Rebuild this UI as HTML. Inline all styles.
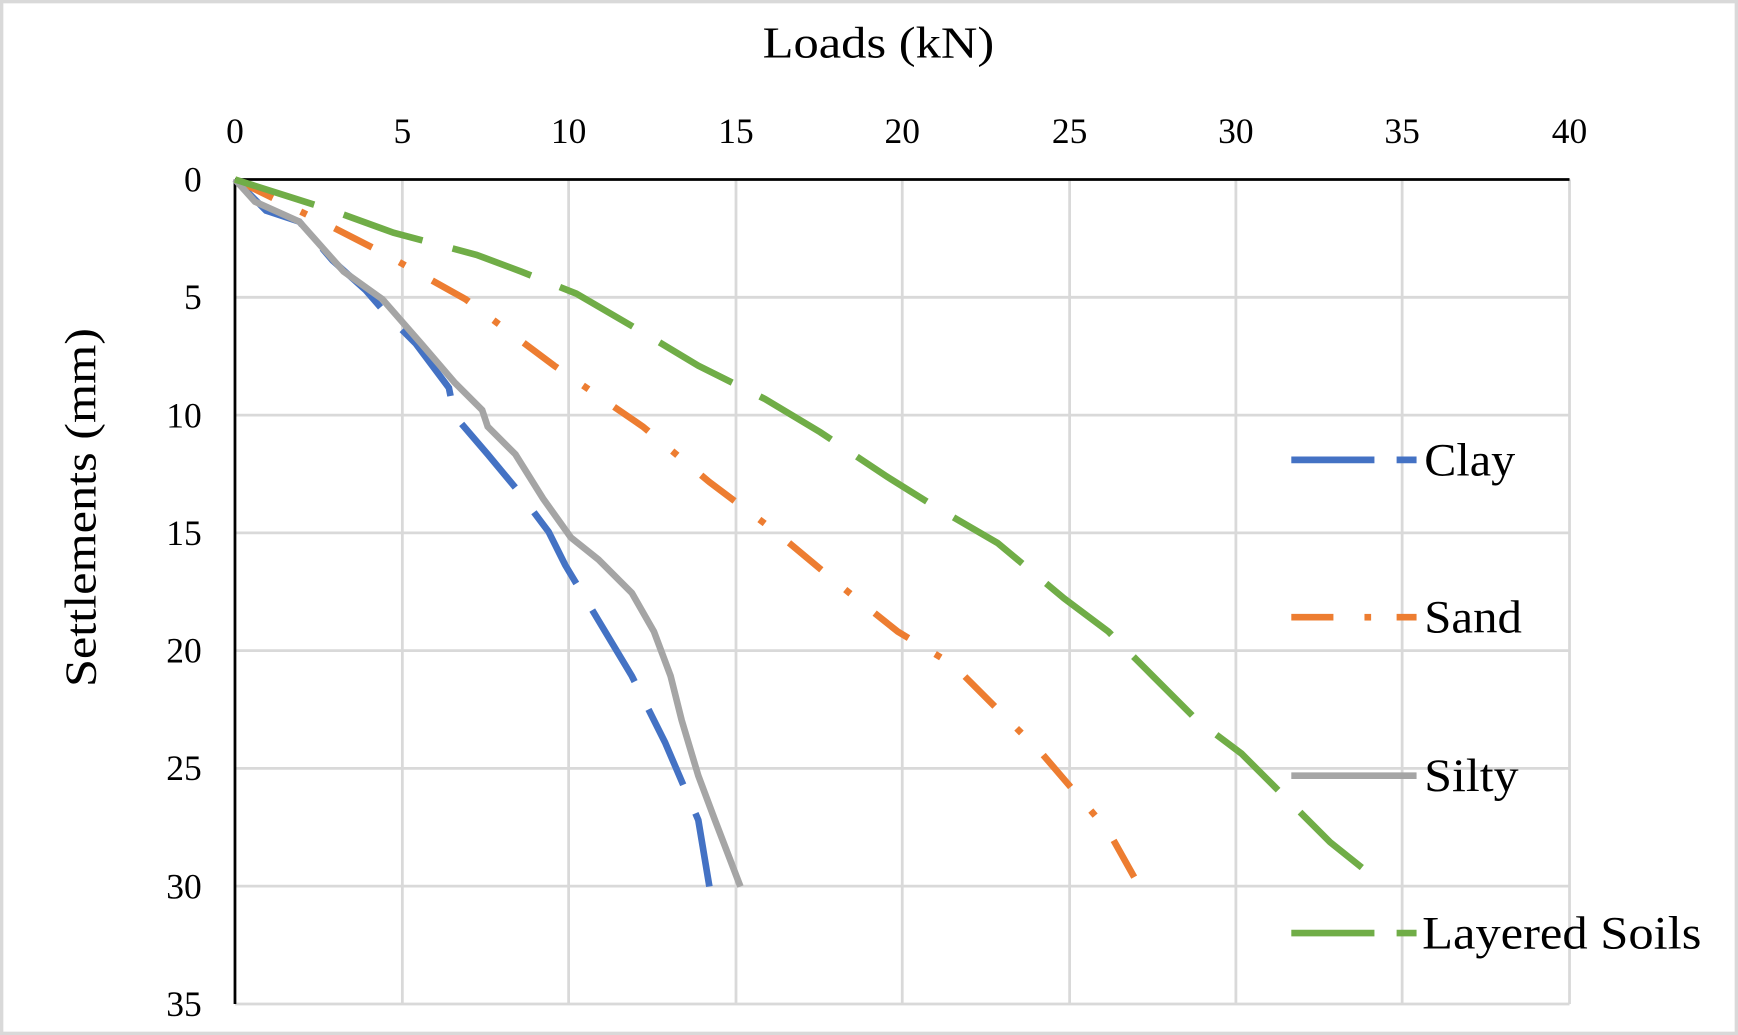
<!DOCTYPE html>
<html><head><style>html,body{margin:0;padding:0;background:#fff}svg{display:block}</style></head>
<body>
<svg width="1738" height="1035" viewBox="0 0 1568 934" preserveAspectRatio="none" xmlns="http://www.w3.org/2000/svg">
<rect x="1.5" y="1.5" width="1565" height="931" fill="#fff" stroke="#d9d9d9" stroke-width="3"/>
<g stroke="#d9d9d9" stroke-width="2.5">
<line x1="363" y1="162" x2="363" y2="906"/><line x1="513" y1="162" x2="513" y2="906"/>
<line x1="664" y1="162" x2="664" y2="906"/><line x1="814" y1="162" x2="814" y2="906"/>
<line x1="965" y1="162" x2="965" y2="906"/><line x1="1115" y1="162" x2="1115" y2="906"/>
<line x1="1265" y1="162" x2="1265" y2="906"/><line x1="1416" y1="162" x2="1416" y2="906"/>
<line x1="212" y1="268.3" x2="1416" y2="268.3"/><line x1="212" y1="374.6" x2="1416" y2="374.6"/>
<line x1="212" y1="480.9" x2="1416" y2="480.9"/><line x1="212" y1="587.1" x2="1416" y2="587.1"/>
<line x1="212" y1="693.4" x2="1416" y2="693.4"/><line x1="212" y1="799.7" x2="1416" y2="799.7"/>
<line x1="212" y1="906" x2="1416" y2="906"/>
</g>
<line x1="212" y1="162" x2="1416" y2="162" stroke="#000" stroke-width="2.5"/>
<line x1="212" y1="162" x2="212" y2="906" stroke="#000" stroke-width="2.5"/>
<g font-family="Liberation Serif, serif" font-size="32" fill="#000" text-anchor="middle">
<text x="212" y="129">0</text><text x="363" y="129">5</text><text x="513" y="129">10</text>
<text x="664" y="129">15</text><text x="814" y="129">20</text><text x="965" y="129">25</text>
<text x="1115" y="129">30</text><text x="1265" y="129">35</text><text x="1416" y="129">40</text>
</g>
<g font-family="Liberation Serif, serif" font-size="32" fill="#000" text-anchor="end">
<text x="182" y="173">0</text><text x="182" y="279">5</text><text x="182" y="386">10</text>
<text x="182" y="492">15</text><text x="182" y="598">20</text><text x="182" y="704">25</text>
<text x="182" y="811">30</text><text x="182" y="917">35</text>
</g>
<text x="688" y="52" font-family="Liberation Serif, serif" font-size="40" textLength="209" lengthAdjust="spacingAndGlyphs">Loads (kN)</text>
<text transform="translate(86,620) rotate(-90)" font-family="Liberation Serif, serif" font-size="40" textLength="324" lengthAdjust="spacingAndGlyphs">Settlements (mm)</text>
<g fill="none" stroke-width="6">
<polyline stroke="#4472c4" stroke-dasharray="75,28" points="212,162 240,190 270,200 300,235 330,262 350,285 375,310 405,350 410,375 440,410 465,440 495,480 510,510 540,560 570,610 600,670 630,740 640,800"/>
<polyline stroke="#ed7d31" stroke-dasharray="38,28,6,28" points="212,162 300,205 345,228 420,270 500,330 580,385 640,435 700,480 760,530 810,570 860,600 900,640 940,680 970,715 1000,750 1028,800"/>
<polyline stroke="#a5a5a5" points="212,162 230,182 270,200 310,245 345,270 380,310 410,345 435,370 440,385 465,410 490,450 515,485 540,505 570,535 590,570 605,610 615,650 630,700 645,740 668,800"/>
<polyline stroke="#70ad47" stroke-dasharray="75,28" points="212,162 300,190 355,210 430,230 470,245 520,265 580,300 630,330 690,360 740,390 800,430 840,455 900,490 960,540 1000,570 1040,610 1080,650 1120,680 1150,710 1200,760 1250,800"/>
<line x1="1165" y1="415" x2="1240" y2="415" stroke="#4472c4"/><line x1="1260" y1="415" x2="1278" y2="415" stroke="#4472c4"/>
<line x1="1165" y1="557" x2="1203" y2="557" stroke="#ed7d31"/><line x1="1231" y1="557" x2="1237" y2="557" stroke="#ed7d31"/><line x1="1260" y1="557" x2="1278" y2="557" stroke="#ed7d31"/>
<line x1="1165" y1="700" x2="1278" y2="700" stroke="#a5a5a5"/>
<line x1="1165" y1="842" x2="1240" y2="842" stroke="#70ad47"/><line x1="1260" y1="842" x2="1278" y2="842" stroke="#70ad47"/>
</g>
<g font-family="Liberation Serif, serif" font-size="42" fill="#000" lengthAdjust="spacingAndGlyphs">
<text x="1285" y="429" textLength="82" lengthAdjust="spacingAndGlyphs">Clay</text>
<text x="1285" y="571" textLength="88" lengthAdjust="spacingAndGlyphs">Sand</text>
<text x="1285" y="714" textLength="85" lengthAdjust="spacingAndGlyphs">Silty</text>
<text x="1283" y="856" textLength="252" lengthAdjust="spacingAndGlyphs">Layered Soils</text>
</g>
</svg>
</body></html>
